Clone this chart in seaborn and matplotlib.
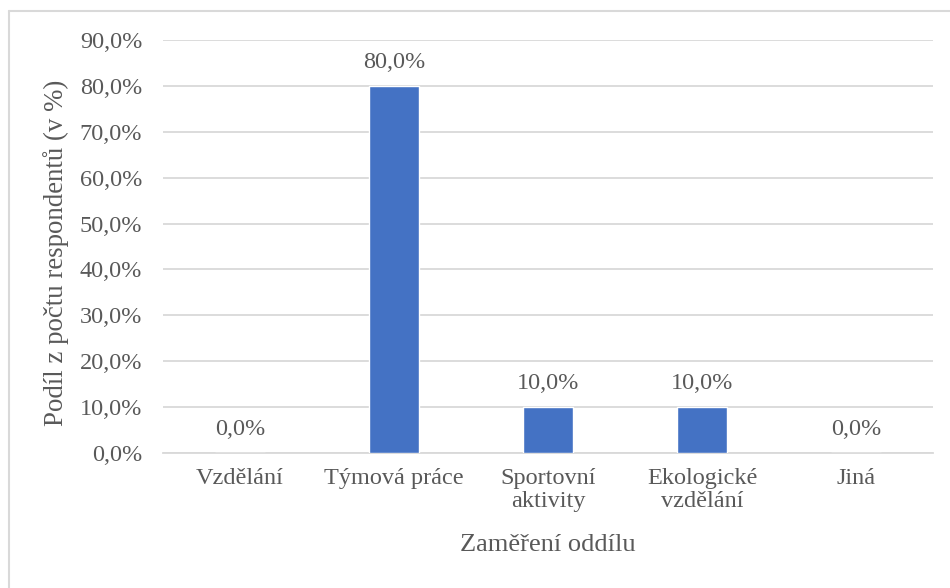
import pandas as pd
import seaborn as sns
import matplotlib.pyplot as plt
from matplotlib.lines import Line2D
from matplotlib.ticker import FuncFormatter

kategorie = ['Vzdělání', 'Týmová práce', 'Sportovní\naktivity', 'Ekologické\nvzdělání', 'Jiná']
podil = [0.0, 80.0, 10.0, 10.0, 0.0]
y_ticks = [0, 10, 20, 30, 40, 50, 60, 70, 80, 90]

df = pd.DataFrame({'kategorie': kategorie, 'podil': podil})

sns.set_theme(style='white')
plt.rcParams['font.family'] = ['Liberation Serif', 'DejaVu Serif']
text_color = '#595959'
grid_color = '#d9d9d9'

fig = plt.figure(figsize=(9.5, 5.88), dpi=100)
ax = fig.add_axes([163 / 950, 1 - 453 / 588, (933 - 163) / 950, (453 - 40) / 588])

sns.barplot(data=df, x='kategorie', y='podil', color='#4472C4', width=0.32,
            saturation=1, ax=ax, zorder=3)

ax.set_ylim(0, 90)
ax.set_yticks(y_ticks)
ax.yaxis.set_major_formatter(FuncFormatter(lambda v, p: f'{v:.1f}%'.replace('.', ',')))
ax.grid(axis='y', color=grid_color, linewidth=1.3, zorder=0)
for s in ['top', 'right', 'left']:
    ax.spines[s].set_visible(False)
ax.spines['bottom'].set_color(grid_color)
ax.spines['bottom'].set_linewidth(1.3)
ax.tick_params(axis='both', length=0, labelsize=17.5, labelcolor=text_color)
ax.tick_params(axis='y', pad=15)
ax.tick_params(axis='x', pad=11)
for lbl in ax.get_xticklabels():
    lbl.set_linespacing(1.12)

# popisky hodnot
for i, v in enumerate(podil):
    ax.annotate(f'{v:.1f}%'.replace('.', ','), (i, v), xytext=(0, 17),
                textcoords='offset points', ha='center', va='center',
                fontsize=17.5, color=text_color)

ax.set_xlabel('Zaměření oddílu', fontsize=19, color=text_color)
ax.set_ylabel('Podíl z počtu respondentů (v %)', fontsize=19.4, color=text_color)
ax.xaxis.set_label_coords(0.5, -0.223)
ax.xaxis.label.set_va('center')
ax.yaxis.set_label_coords(-0.139, 0.484)
ax.yaxis.label.set_va('center')

# okraj grafu (oříznutý vpravo a dole)
fig.add_artist(Line2D([9 / 950, 1], [1 - 11 / 588] * 2, color=grid_color, linewidth=1.5))
fig.add_artist(Line2D([9 / 950] * 2, [0, 1 - 11 / 588], color=grid_color, linewidth=1.5))

plt.savefig('out.png', dpi=100)
plt.close()
